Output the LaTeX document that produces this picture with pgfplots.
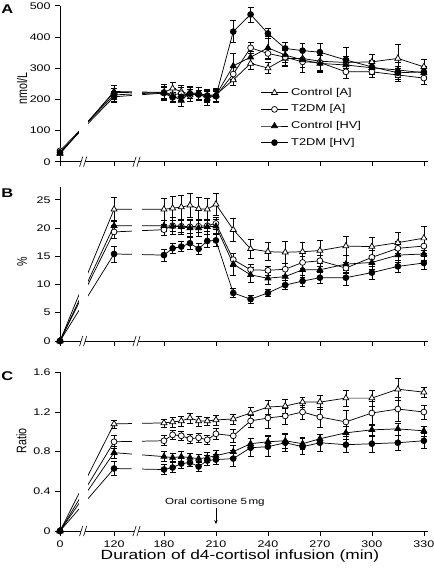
\documentclass[border=0pt]{standalone}
\usepackage{fontspec}
\setmainfont{Liberation Sans}[FakeStretch=1.3]
\newfontfamily\plainsf{Liberation Sans}
\usepackage{graphicx}
\usepackage{pgfplots}
\usepackage{pgfplotstable}
\pgfplotsset{compat=1.18}
\usetikzlibrary{arrows.meta}

% ---------- Panel A (nmol/L) ----------
\pgfplotstableread{
t v e
0 25 4
120 225 20
180 222 20
185 235 20
190 225 20
195 215 22
200 220 20
205 212 20
210 215 20
220 262 18
230 315 18
240 300 18
250 331 25
260 331 30
270 322 30
285 318 20
300 320 25
315 331 45
330 304 25
}\Aca
\pgfplotstableread{
t v e
0 35 4
120 214 20
180 222 25
185 215 20
190 218 20
195 213 20
200 218 20
205 210 20
210 210 20
220 281 20
230 365 18
240 347 15
250 335 25
260 320 35
270 318 30
285 288 22
300 288 18
315 278 20
330 268 20
}\Ata
\pgfplotstableread{
t v e
0 28 4
120 222 22
180 220 22
185 212 20
190 196 20
195 222 20
200 218 20
205 203 22
210 213 20
220 307 42
230 335 20
240 365 37
250 342 25
260 326 38
270 315 25
285 310 22
300 301 22
315 294 25
330 285 22
}\Ach
\pgfplotstableread{
t v e
0 30 4
120 208 18
180 220 20
185 206 15
190 208 15
195 218 15
200 215 15
205 212 15
210 210 15
220 417 35
230 472 24
240 411 16
250 363 20
260 356 22
270 351 30
285 326 40
300 304 20
315 285 20
330 288 15
}\Ath

% ---------- Panel B (%) ----------
\pgfplotstableread{
t v e
0 0 0
120 23.3 2.1
180 23.3 2.0
185 23.5 2.1
190 23.7 2.1
195 24.0 2.2
200 23.4 2.0
205 23.3 2.0
210 24.2 2.0
220 19.7 2.0
230 16.3 1.7
240 15.8 1.6
250 15.7 1.9
260 15.8 1.7
270 16.0 1.8
285 16.8 1.7
300 16.7 1.7
315 17.4 1.9
330 18.2 2.1
}\Bca
\pgfplotstableread{
t v e
0 0 0
120 19.3 1.2
180 19.7 1.0
185 20.4 1.0
190 20.3 1.0
195 20.2 1.2
200 20.3 1.0
205 20.4 1.0
210 20.8 1.0
220 14.4 1.2
230 12.6 1.0
240 12.5 0.8
250 12.7 1.0
260 13.9 1.0
270 14.2 1.0
285 12.9 1.0
300 14.8 1.2
315 16.4 1.3
330 16.8 1.3
}\Bta
\pgfplotstableread{
t v e
0 0 0
120 20.4 1.0
180 20.4 1.0
185 20.3 1.5
190 20.2 1.3
195 20.0 1.5
200 20.0 1.5
205 20.2 1.3
210 20.3 1.2
220 13.6 2.0
230 11.7 1.4
240 11.1 1.0
250 11.4 1.2
260 12.6 1.3
270 12.6 1.2
285 13.6 1.5
300 13.9 1.3
315 15.2 1.3
330 15.4 1.2
}\Bch
\pgfplotstableread{
t v e
0 0 0
120 15.4 1.4
180 15.2 1.1
185 16.4 0.9
190 16.7 0.9
195 17.3 1.0
200 16.3 0.9
205 17.7 1.2
210 17.8 1.1
220 8.5 0.8
230 7.4 0.7
240 8.5 0.6
250 9.9 0.8
260 10.6 1.0
270 11.2 1.0
285 11.2 1.3
300 12.1 1.2
315 13.2 1.1
330 13.8 1.1
}\Bth

% ---------- Panel C (Ratio) ----------
\pgfplotstableread{
t v e
0 0 0
120 1.08 0.04
180 1.09 0.04
185 1.10 0.05
190 1.11 0.05
195 1.14 0.05
200 1.11 0.05
205 1.11 0.04
210 1.12 0.05
220 1.13 0.05
230 1.19 0.06
240 1.25 0.07
250 1.26 0.07
260 1.30 0.05
270 1.30 0.07
285 1.34 0.08
300 1.34 0.08
315 1.43 0.11
330 1.40 0.05
}\Cca
\pgfplotstableread{
t v e
0 0 0
120 0.90 0.07
180 0.91 0.05
185 0.97 0.05
190 0.96 0.05
195 0.93 0.05
200 0.94 0.05
205 0.92 0.05
210 0.98 0.06
220 0.96 0.07
230 1.11 0.06
240 1.14 0.10
250 1.16 0.08
260 1.20 0.07
270 1.15 0.10
285 1.10 0.12
300 1.19 0.12
315 1.23 0.12
330 1.20 0.07
}\Cta
\pgfplotstableread{
t v e
0 0 0
120 0.79 0.06
180 0.75 0.05
185 0.74 0.04
190 0.75 0.05
195 0.74 0.04
200 0.73 0.04
205 0.74 0.05
210 0.76 0.05
220 0.80 0.06
230 0.88 0.05
240 0.90 0.06
250 0.91 0.08
260 0.88 0.06
270 0.93 0.05
285 0.99 0.07
300 1.02 0.06
315 1.03 0.06
330 1.01 0.05
}\Cch
\pgfplotstableread{
t v e
0 0 0
120 0.63 0.07
180 0.62 0.05
185 0.64 0.05
190 0.68 0.05
195 0.69 0.04
200 0.65 0.05
205 0.71 0.05
210 0.72 0.05
220 0.73 0.08
230 0.84 0.09
240 0.85 0.10
250 0.89 0.09
260 0.85 0.08
270 0.89 0.09
285 0.87 0.08
300 0.88 0.09
315 0.89 0.08
330 0.91 0.08
}\Cth

\pgfplotsset{
  panel/.style={scale only axis, width=276pt, axis lines*=left,
    xmin=0, xmax=7.08, ymin=0, tick align=outside, major tick length=3.5pt,
    tick style={black, line width=0.45pt}, axis line style={line width=0.55pt},
    xtick={0,1.04,2,3,4,5,6,7},
    ticklabel style={font=\fontsize{7.2}{8}\selectfont},
    /pgf/number format/assume math mode=true, clip=false},
  ser/.style={black, line width=0.55pt,
    error bars/y dir=both, error bars/y explicit,
    error bars/error bar style={line width=0.45pt, black},
    error bars/error mark options={rotate=90, mark size=2.2pt, line width=0.45pt, black}},
  ca/.style={mark=triangle*, mark options={fill=white, mark size=2.6pt, line width=0.55pt}, ser},
  ta/.style={mark=*, mark options={fill=white, mark size=2.2pt, line width=0.55pt}, ser},
  ch/.style={mark=triangle*, mark options={fill=black, mark size=2.6pt, line width=0.55pt}, ser},
  th/.style={mark=*, mark options={fill=black, mark size=2.2pt, line width=0.55pt}, ser},
  table/tx/.style={x expr={\thisrow{t}<150 ? 1.04*\thisrow{t}/120 : 2+(\thisrow{t}-180)/30}},
}
\newcommand{\breakmark}[1]{%
  \fill[white] ([xshift=-2.8pt,yshift=-3.8pt]axis cs:#1,0) -- ++(2.4pt,7.6pt) -- ++(3pt,0pt) -- ++(-2.4pt,-7.6pt) -- cycle;
  \draw[line width=0.45pt] ([xshift=-2.8pt,yshift=-3.8pt]axis cs:#1,0) -- ++(2.4pt,7.6pt);
  \draw[line width=0.45pt] ([xshift=0.2pt,yshift=-3.8pt]axis cs:#1,0) -- ++(2.4pt,7.6pt);}
\newcommand{\axbreaks}{%
  \fill[white] (rel axis cs:0.052,0.012) rectangle (rel axis cs:0.077,1.0);
  \fill[white] (rel axis cs:0.195,0.012) rectangle (rel axis cs:0.224,1.0);
  \breakmark{0.448}\breakmark{1.475}}

\begin{document}
\begin{tikzpicture}
\useasboundingbox (0,0) rectangle (324.75pt,426pt);

% Panel A
\begin{axis}[panel, at={(45pt,304.725pt)}, anchor=south west, height=117pt,
  ymax=500, ytick={0,100,...,500}, xticklabels={},
  ylabel={\scalebox{1}[1.3]{\plainsf\fontsize{8}{9}\selectfont nmol/L}},
  ylabel style={at={(axis description cs:-0.103,0.47)}, anchor=center},
  legend image code/.code={\draw[mark repeat=2,mark phase=2,#1] plot coordinates {(0cm,0cm) (0.36cm,0cm) (0.72cm,0cm)};},
  legend cell align=left,
  legend style={draw=none, fill=none, at={(axis description cs:0.544,0.49)}, anchor=north west,
    font=\fontsize{7.4}{8.5}\selectfont, row sep=1.6pt, inner sep=0pt}]
\addplot+[ca] table[tx, y=v, y error=e] {\Aca};
\addlegendentry{Control [A]}
\addplot+[ta] table[tx, y=v, y error=e] {\Ata};
\addlegendentry{T2DM [A]}
\addplot+[ch] table[tx, y=v, y error=e] {\Ach};
\addlegendentry{Control [HV]}
\addplot+[th] table[tx, y=v, y error=e] {\Ath};
\addlegendentry{T2DM [HV]}
\axbreaks
\end{axis}

% Panel B
\begin{axis}[panel, at={(45pt,170.25pt)}, anchor=south west, height=115.3pt,
  ymax=27.2, ytick={0,5,...,25}, xticklabels={},
  ylabel={\scalebox{1}[1.3]{\plainsf\fontsize{8}{9}\selectfont \%}},
  ylabel style={at={(axis description cs:-0.103,0.516)}, anchor=center}]
\addplot+[ca] table[tx, y=v, y error=e] {\Bca};
\addplot+[ta] table[tx, y=v, y error=e] {\Bta};
\addplot+[ch] table[tx, y=v, y error=e] {\Bch};
\addplot+[th] table[tx, y=v, y error=e] {\Bth};
\axbreaks
\end{axis}

% Panel C
\begin{axis}[panel, at={(45pt,27.75pt)}, anchor=south west, height=119pt,
  ymax=1.6, ytick={0,0.4,0.8,1.2,1.6}, xticklabels={0,120,180,210,240,270,300,330},
  ylabel={\scalebox{1}[1.3]{\plainsf\fontsize{8}{9}\selectfont Ratio}},
  ylabel style={at={(axis description cs:-0.105,0.567)}, anchor=center},
  xlabel={Duration of d4-cortisol infusion (min)},
  xlabel style={font=\fontsize{10}{12}\selectfont, at={(axis description cs:0.489,-0.157)}, anchor=center}]
\addplot+[ca] table[tx, y=v, y error=e] {\Cca};
\addplot+[ta] table[tx, y=v, y error=e] {\Cta};
\addplot+[ch] table[tx, y=v, y error=e] {\Cch};
\addplot+[th] table[tx, y=v, y error=e] {\Cth};
\axbreaks
\node[font=\fontsize{6.7}{8}\selectfont] at (axis cs:2.98,0.295) {Oral cortisone 5\,mg};
\draw[line width=0.5pt, -{Stealth[length=3pt,width=2.6pt]}] (axis cs:3,0.228) -- (axis cs:3,0.07);
\end{axis}

\node[anchor=north west, inner sep=0pt, font=\bfseries\fontsize{9.5}{12}\selectfont] at (0.8pt,422.3pt) {A};
\node[anchor=north west, inner sep=0pt, font=\bfseries\fontsize{9.5}{12}\selectfont] at (0.8pt,284.8pt) {B};
\node[anchor=north west, inner sep=0pt, font=\bfseries\fontsize{9.5}{12}\selectfont] at (0.8pt,147.2pt) {C};
\end{tikzpicture}
\end{document}
